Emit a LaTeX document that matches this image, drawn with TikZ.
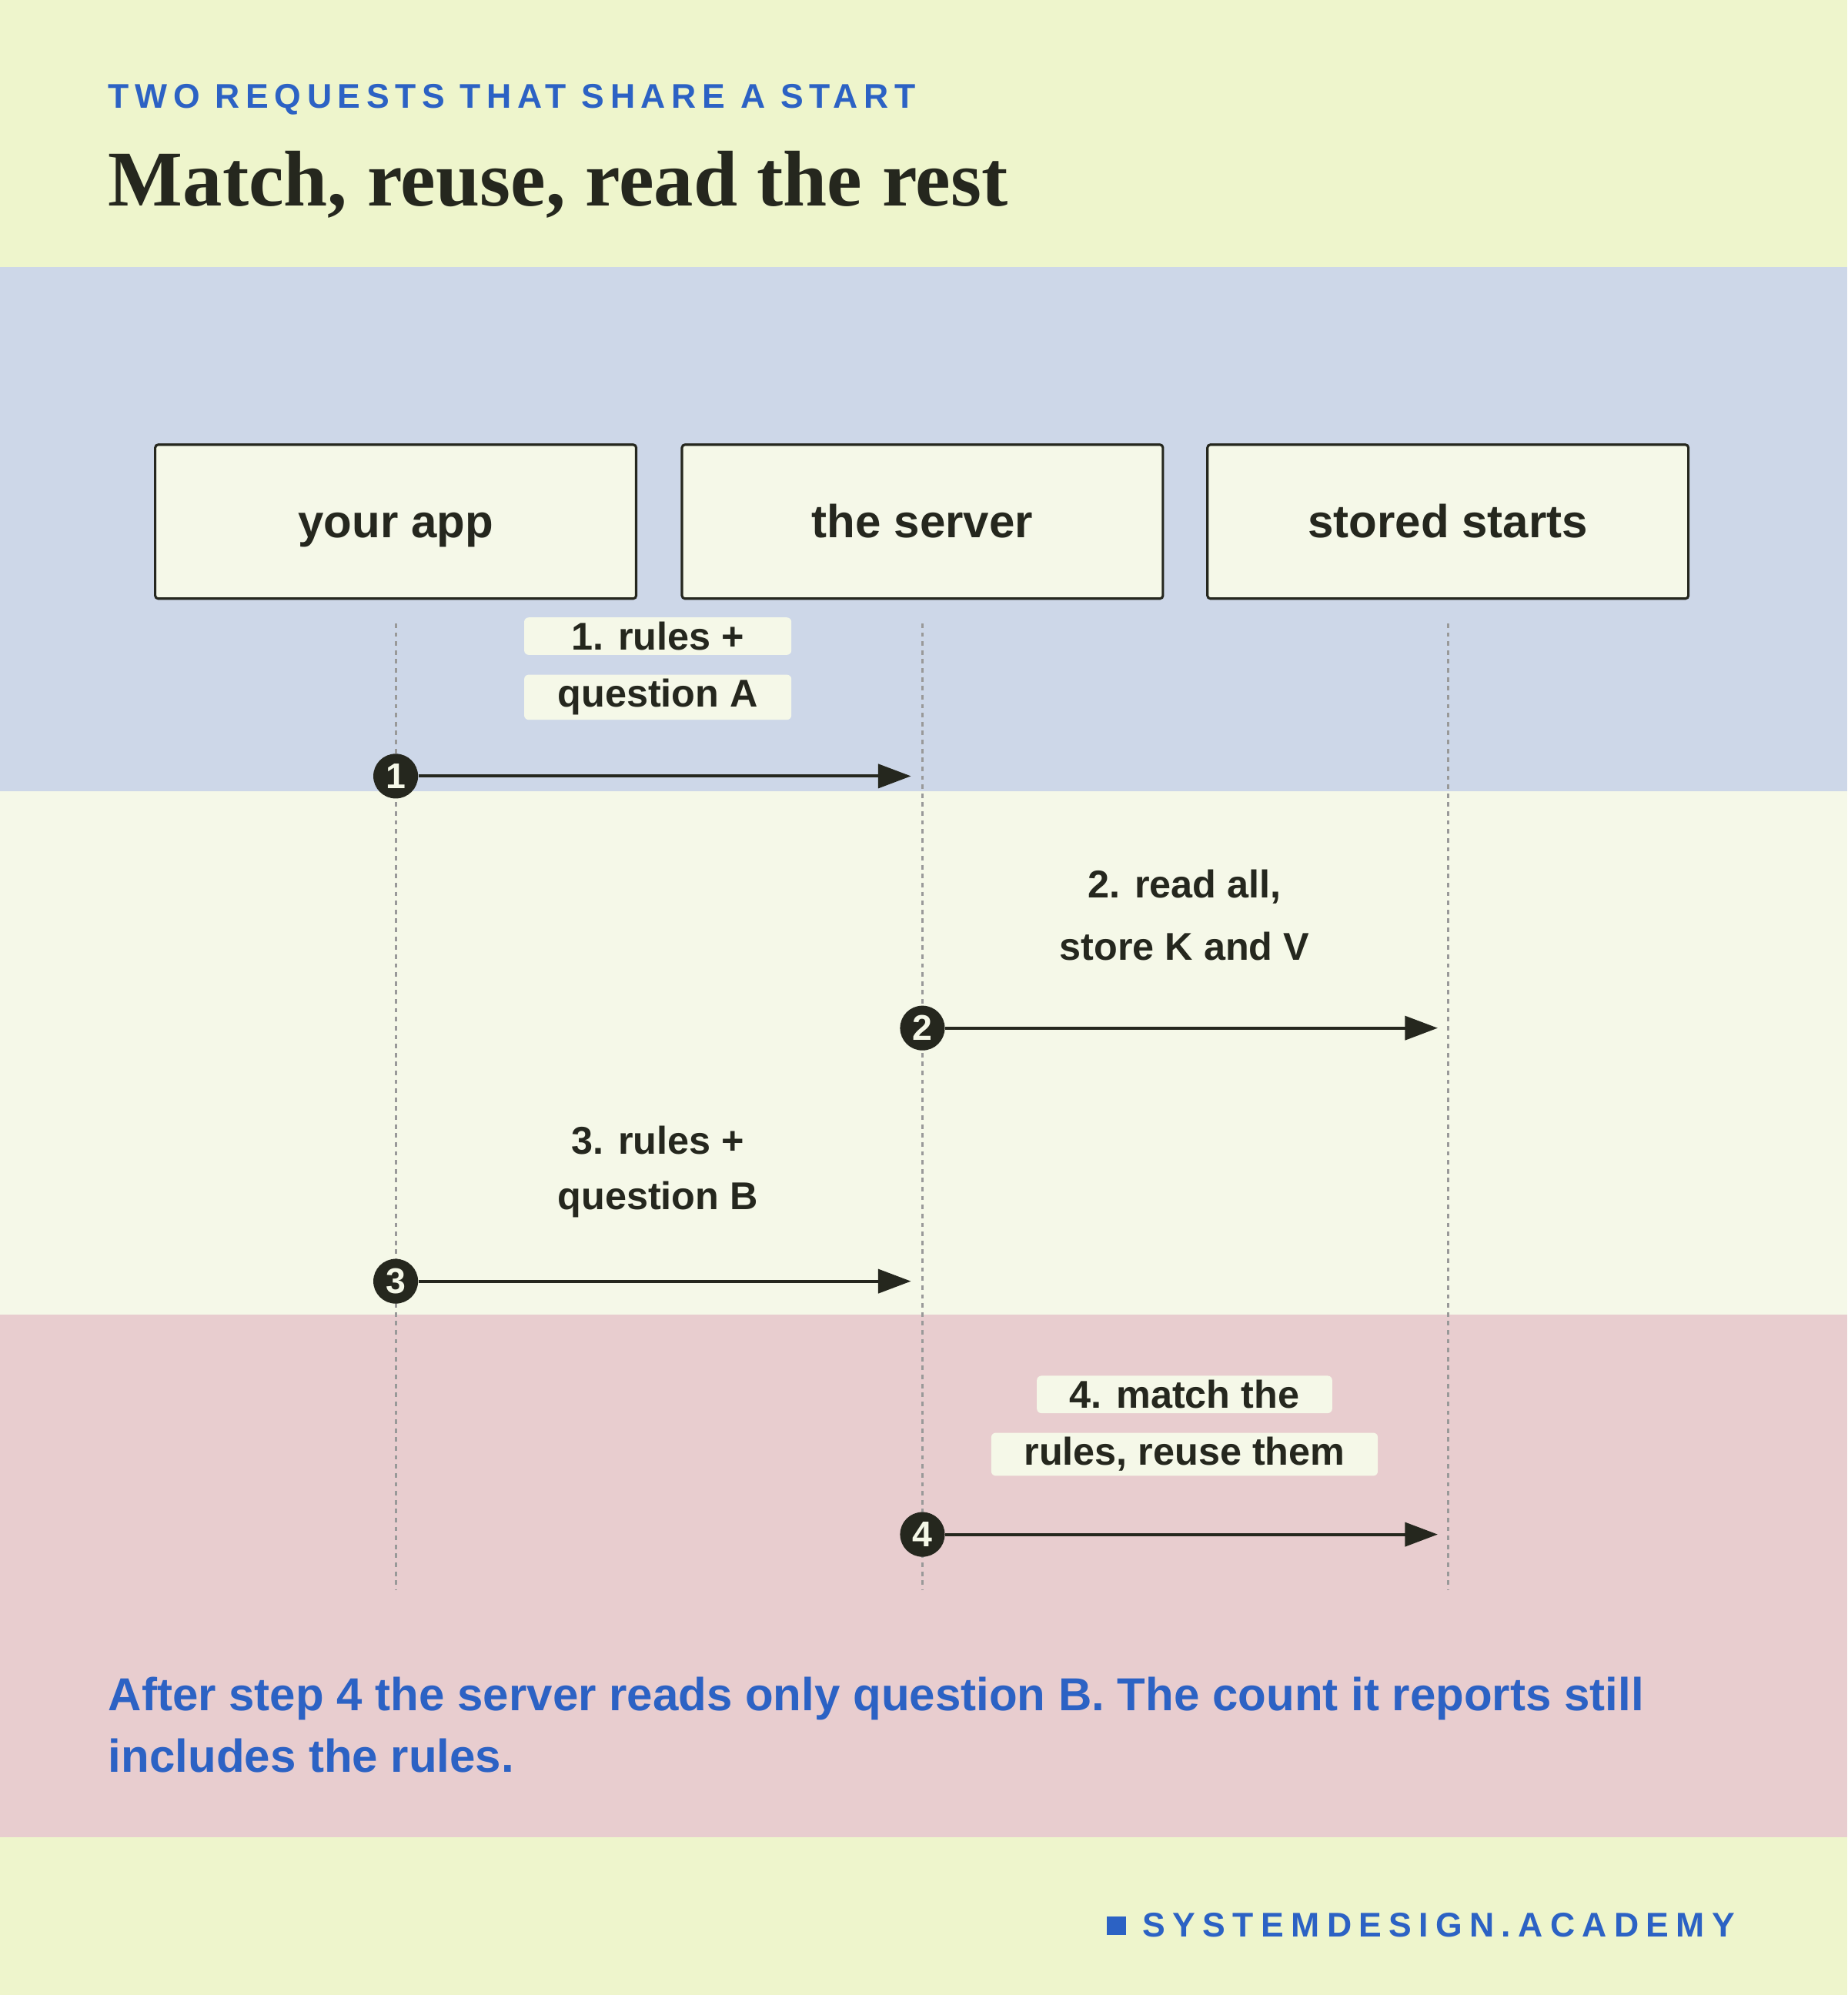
\documentclass[tikz,border=0pt]{standalone}
\usepackage{fontspec}
\setmainfont{Liberation Sans}
\newfontfamily\titlefont{Liberation Serif}
\usetikzlibrary{positioning,arrows.meta}
\definecolor{paleyel}{HTML}{EEF5CC}
\definecolor{paleblue}{HTML}{CDD7E8}
\definecolor{palecream}{HTML}{F5F8E8}
\definecolor{palepink}{HTML}{E8CDCF}
\definecolor{ink}{HTML}{25271E}
\definecolor{brand}{HTML}{2C62C4}
\tikzset{
  actor/.style={draw=ink,line width=1.6pt,fill=palecream,rounded corners=2pt,
    minimum width=113.4mm,minimum height=36.3mm,text height=27pt,text depth=6pt,
    font=\fontsize{31}{34}\selectfont\bfseries,text=ink},
  life/.style={draw=gray!80,dashed,line width=1.5pt},
  msg/.style={draw=ink,line width=2pt,-{Triangle[length=22pt,width=16pt]}},
  stepdot/.style={circle,fill=ink,text=palecream,inner sep=0pt,minimum size=30pt,
    font=\fontsize{24}{24}\selectfont\bfseries},
  lbl/.style={font=\fontsize{26}{30}\selectfont\bfseries,text=ink,inner sep=3pt},
  tag/.style={lbl,fill=palecream,rounded corners=3pt,inner xsep=22pt}
}
\begin{document}
\begin{tikzpicture}[x=0.3mm,y=-0.3mm]
  % background bands
  \fill[paleyel] (0,0) rectangle (1452,1568);
  \fill[paleblue] (0,210) rectangle (1452,622);
  \fill[palecream] (0,622) rectangle (1452,1033);
  \fill[palepink] (0,1033) rectangle (1452,1444);
  % heading
  \node[anchor=west,inner sep=0pt,text=brand,font=\fontsize{23}{24}\selectfont\bfseries\addfontfeatures{LetterSpace=17}]
    (kicker) at (85,78) {TWO REQUESTS THAT SHARE A START};
  \node[anchor=west,inner sep=0pt,text=ink,font=\fontsize{53}{56}\selectfont\titlefont\bfseries]
    (title) at (85,145) {Match, reuse, read the rest};
  % actors
  \node[actor] (app) at (311,410) {your app};
  \node[actor] (server) at (725,410) {the server};
  \node[actor] (store) at (1138,410) {stored starts};
  % lifelines
  \coordinate (append) at (311,1250);
  \coordinate (serverend) at (725,1250);
  \coordinate (storeend) at (1138,1250);
  \draw[life] (311,490) -- (append);
  \draw[life] (725,490) -- (serverend);
  \draw[life] (1138,490) -- (storeend);
  % messages
  \coordinate (m1) at (716,610);
  \coordinate (m2) at (1130,808);
  \coordinate (m3) at (716,1007);
  \coordinate (m4) at (1130,1206);
  \node[stepdot] (s1) at (311,610) {1};
  \node[stepdot] (s2) at (725,808) {2};
  \node[stepdot] (s3) at (311,1007) {3};
  \node[stepdot] (s4) at (725,1206) {4};
  \draw[msg] (s1) -- (m1);
  \draw[msg] (s2) -- (m2);
  \draw[msg] (s3) -- (m3);
  \draw[msg] (s4) -- (m4);
  % message labels
  \node[tag,minimum width=63mm] (l1a) at (517,500) {1. rules +};
  \node[tag,minimum width=63mm] (l1b) at (517,548) {question A};
  \node[lbl] (l2a) at (931,697) {2. read all,};
  \node[lbl] (l2b) at (931,744) {store K and V};
  \node[lbl] (l3a) at (517,896) {3. rules +};
  \node[lbl] (l3b) at (517,943) {question B};
  \node[tag] (l4a) at (931,1096) {4. match the};
  \node[tag] (l4b) at (931,1143) {rules, reuse them};
  % note
  \node[anchor=north west,inner sep=0pt,align=left,text=brand,font=\fontsize{31}{41}\selectfont\bfseries]
    (note) at (85,1318) {After step 4 the server reads only question B. The count it reports still\\includes the rules.};
  % footer
  \node[anchor=west,inner sep=0pt,text=brand,font=\fontsize{23}{24}\selectfont\bfseries\addfontfeatures{LetterSpace=21}]
    (brandname) at (898,1513) {SYSTEMDESIGN.ACADEMY};
  \fill[brand] (870,1506) rectangle (885,1521);
\end{tikzpicture}
\end{document}
